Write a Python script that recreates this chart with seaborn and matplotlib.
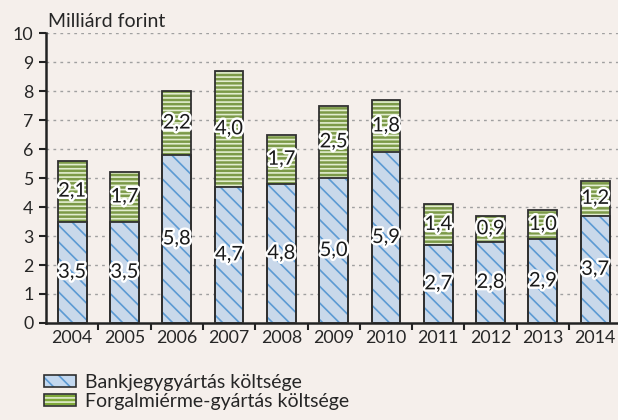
import matplotlib
matplotlib.use("Agg")
import matplotlib.pyplot as plt
import matplotlib.patheffects as pe
from matplotlib.patches import Patch
import seaborn as sns
import pandas as pd

years = ["2004", "2005", "2006", "2007", "2008", "2009", "2010", "2011", "2012", "2013", "2014"]
banknote = [3.5, 3.5, 5.8, 4.7, 4.8, 5.0, 5.9, 2.7, 2.8, 2.9, 3.7]
coin = [2.1, 1.7, 2.2, 4.0, 1.7, 2.5, 1.8, 1.4, 0.9, 1.0, 1.2]
series_names = ["Bankjegygyártás költsége", "Forgalmiérme-gyártás költsége"]

df = pd.DataFrame({"year": years, "banknote": banknote, "coin": coin})
df["total"] = df["banknote"] + df["coin"]

bg = "#F5EFEB"
blue_face, blue_hatch = "#C3D8EF", "#5C9AD3"
green_face, green_hatch = "#7FA83A", "#E2EDCF"
edge = "#303030"

sns.set_style("ticks")
plt.rcParams["font.family"] = ["Lato", "DejaVu Sans"]
plt.rcParams["hatch.linewidth"] = 1.2

fig = plt.figure(figsize=(6.18, 4.2), dpi=100, facecolor=bg)
ax = fig.add_axes([0.0744, 0.231, 0.931, 0.690])
ax.set_facecolor(bg)

# dotted grid behind bars
for v in range(1, 11):
    ax.axhline(v, color="#A0A0A0", lw=1, ls=(0, (2, 3)), zorder=0)

# stacked bars: total (green) first, banknote (blue) on top
sns.barplot(data=df, x="year", y="total", color=green_face, width=0.55, ax=ax, zorder=2)
sns.barplot(data=df, x="year", y="banknote", color=blue_face, width=0.55, ax=ax, zorder=3)
for p in ax.containers[0]:
    p.set_hatch("----")
    p.set_edgecolor(green_hatch)
    p.set_linewidth(0)
for p in ax.containers[1]:
    p.set_hatch("\\\\")
    p.set_edgecolor(blue_hatch)
    p.set_linewidth(0)

# outlines
sns.barplot(data=df, x="year", y="total", fill=False, color=edge, width=0.55, ax=ax,
            linewidth=1.3, zorder=4)
sns.barplot(data=df, x="year", y="banknote", fill=False, color=edge, width=0.55, ax=ax,
            linewidth=1.3, zorder=4)

stroke = [pe.withStroke(linewidth=3.5, foreground="white")]
for i, (b, c) in enumerate(zip(banknote, coin)):
    ax.text(i, b / 2, f"{b:.1f}".replace(".", ","), ha="center", va="center",
            fontsize=14.5, color="#1A1A1A", path_effects=stroke, zorder=6)
    ax.text(i, b + c / 2, f"{c:.1f}".replace(".", ","), ha="center", va="center",
            fontsize=14.5, color="#1A1A1A", path_effects=stroke, zorder=6)

ax.set_ylim(0, 10)
ax.set_xlim(-0.5, len(years) - 0.5)
ax.set_yticks(range(0, 11))
ax.set_xlabel("")
ax.set_ylabel("")
ax.set_xticks([i + 0.5 for i in range(len(years))], minor=True)
ax.tick_params(axis="x", which="major", length=0, labelsize=12.8, pad=5)
ax.tick_params(axis="x", which="minor", length=5, width=1.5, color="#222222")
ax.tick_params(axis="y", length=5, width=1.5, color="#222222", labelsize=12.8, pad=4)
for s in ["top", "right"]:
    ax.spines[s].set_visible(False)
for s in ["left", "bottom"]:
    ax.spines[s].set_linewidth(1.8)
    ax.spines[s].set_color("#222222")

fig.text(0.077, 0.948, "Milliárd forint", fontsize=14, ha="left", va="center")

handles = [
    (Patch(facecolor=blue_face, edgecolor=blue_hatch, hatch="\\\\", lw=0),
     Patch(facecolor="none", edgecolor=edge, lw=1.2)),
    (Patch(facecolor=green_face, edgecolor=green_hatch, hatch="----", lw=0),
     Patch(facecolor="none", edgecolor=edge, lw=1.2)),
]
fig.legend(handles, series_names, loc="center left", bbox_to_anchor=(0.056, 0.067),
           frameon=False, fontsize=14, handlelength=1.65, handleheight=0.55,
           labelspacing=0.12, handletextpad=0.45, borderpad=0)

fig.savefig("out.png", dpi=100, facecolor=bg)
